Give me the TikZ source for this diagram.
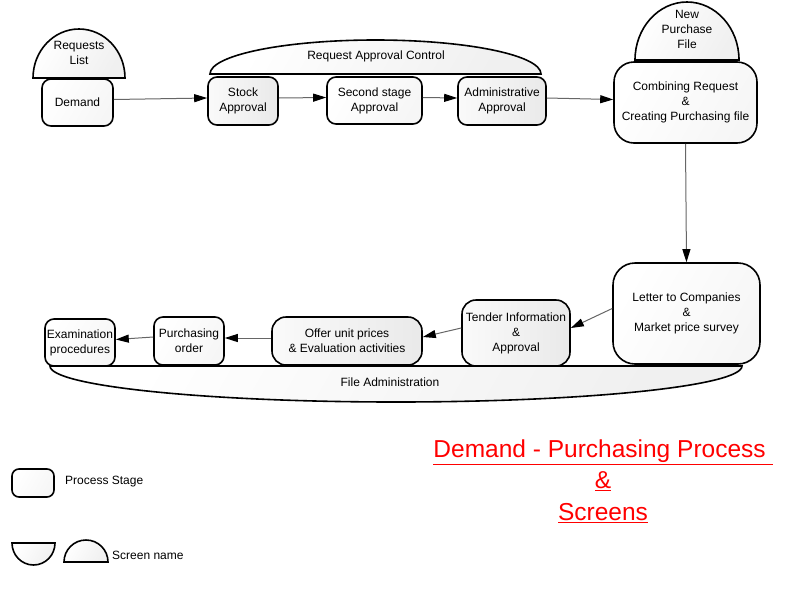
\documentclass[tikz,border=0pt]{standalone}
\usepackage{fontspec}
\setmainfont{Liberation Sans}
\usepackage{tikz}
\usetikzlibrary{arrows.meta}

\begin{document}
\begin{tikzpicture}[x=1pt, y=-1pt,
    stage/.style={rectangle, draw=black, line width=1.6pt, rounded corners=9pt, inner sep=0pt, align=center, font=\fontsize{12}{15}\selectfont, left color=white, right color=gray!7, shading angle=60},
    greystage/.style={stage, left color=gray!4, right color=gray!17},
    screen/.style={draw=black, line width=1.6pt, left color=white, right color=gray!12, shading angle=60},
    screentext/.style={inner sep=0pt, align=center, font=\fontsize{12}{15}\selectfont},
    arrow/.style={draw=black!60, line width=1pt, -{Triangle[length=13pt, width=8pt, black]}}
]
    \useasboundingbox (0,0) rectangle (800,600);

    % screens
    \draw [screen] (33,78) arc[start angle=180, end angle=360, x radius=46, y radius=49] -- cycle;
    \node [screentext] (reqlist) at (79,53) {Requests\\List};
    \draw [screen] (210,74) arc[start angle=180, end angle=360, x radius=165.5, y radius=34] -- cycle;
    \node [screentext] (control) at (376,56) {Request Approval Control};
    \draw [screen] (635,60) arc[start angle=180, end angle=360, x radius=52, y radius=58] -- cycle;
    \node [screentext] (newfile) at (687,29) {New\\Purchase\\File};
    \draw [screen] (50,366) arc[start angle=180, end angle=0, x radius=346, y radius=36] -- cycle;
    \node [screentext] (fileadmin) at (390,382) {File Administration};

    % process stages
    \node [stage, minimum width=71pt, minimum height=47pt] (demand) at (77.5,102.5) {Demand};
    \node [greystage, minimum width=70pt, minimum height=48pt] (stock) at (243,101) {Stock\\Approval};
    \node [stage, minimum width=95pt, minimum height=47pt] (second) at (374.5,100.5) {Second stage\\Approval};
    \node [greystage, minimum width=88pt, minimum height=48pt] (admin) at (502,101) {Administrative\\Approval};
    \node [stage, rounded corners=20pt, minimum width=143pt, minimum height=81pt] (combine) at (685.5,102.5) {Combining Request\\\&\\Creating Purchasing file};
    \node [stage, rounded corners=22pt, minimum width=147pt, minimum height=101pt] (letter) at (686.5,313.5) {Letter to Companies\\\&\\Market price survey};
    \node [greystage, rounded corners=14pt, minimum width=108pt, minimum height=66pt] (tender) at (516,333) {Tender Information\\\&\\Approval};
    \node [greystage, rounded corners=14pt, minimum width=150pt, minimum height=48pt] (offer) at (347,341) {Offer unit prices\\\& Evaluation activities};
    \node [stage, minimum width=70pt, minimum height=48pt] (order) at (189,341) {Purchasing\\order};
    \node [stage, minimum width=70pt, minimum height=47pt] (exam) at (80,342.5) {Examination\\procedures};

    \draw [arrow] ([yshift=3pt]demand.east) -- ([yshift=3pt]stock.west);
    \draw [arrow] ([yshift=3pt]stock.east) -- ([yshift=3pt]second.west);
    \draw [arrow] ([yshift=3pt]second.east) -- ([yshift=3pt]admin.west);
    \draw [arrow] ([yshift=3pt]admin.east) -- ([yshift=3pt]combine.west);
    \draw [arrow] (combine.south) -- (letter.north);
    \draw [arrow] ([yshift=5pt]letter.west) -- ([yshift=5pt]tender.east);
    \draw [arrow] ([yshift=5pt]tender.west) -- ([yshift=4pt]offer.east);
    \draw [arrow] ([yshift=3pt]offer.west) -- ([yshift=3pt]order.east);
    \draw [arrow] ([yshift=4pt]order.west) -- ([yshift=3pt]exam.east);

    % legend
    \node [stage, rounded corners=7pt, minimum width=42pt, minimum height=28pt] (keystage) at (33,483) {};
    \node [screentext, anchor=west] (keystagetext) at (65,482) {Process Stage};
    \draw [screen] (12,543) arc[start angle=180, end angle=0, x radius=21.5, y radius=22] -- cycle;
    \draw [screen] (64,562) arc[start angle=180, end angle=360, x radius=22, y radius=22] -- cycle;
    \node [screentext, anchor=west] (keyscreentext) at (112,555) {Screen name};

    \node [align=center, text=red, inner sep=0pt, font=\fontsize{24.5}{31.5}\selectfont] (title) at (603,481) {\underline{Demand - Purchasing Process\ }\\\underline{\&}\\\underline{Screens}};
\end{tikzpicture}
\end{document}
